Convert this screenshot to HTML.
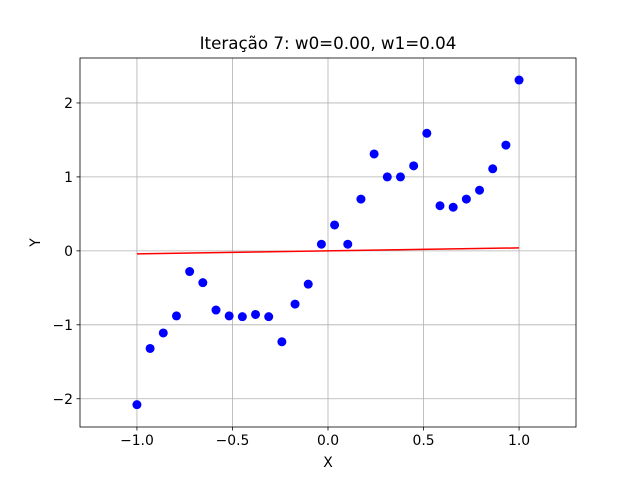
<!DOCTYPE html>
<html><head><meta charset="utf-8"><style>body{margin:0;background:#fff}svg{display:block;font-family:"DejaVu Sans","Liberation Sans",sans-serif}</style></head>
<body>
<svg id="chart" width="640" height="480" xmlns="http://www.w3.org/2000/svg"></svg>
<script>
const xTicks=[-1.0,-0.5,0.0,0.5,1.0];
const xTickLabels=["\u22121.0","\u22120.5","0.0","0.5","1.0"];
const yTicks=[-2,-1,0,1,2];
const yTickLabels=["\u22122","\u22121","0","1","2"];
const yValues=[-2.08,-1.32,-1.11,-0.88,-0.28,-0.43,-0.80,-0.88,-0.89,-0.86,-0.89,-1.23,-0.72,-0.45,0.09,0.35,0.09,0.70,1.31,1.00,1.00,1.15,1.59,0.61,0.59,0.70,0.82,1.11,1.43,2.31];
const w0=0.00, w1=0.04;
const NS="http://www.w3.org/2000/svg";
const svg=document.getElementById('chart');
const L=80,R=576,T=58,B=427;
const xMin=-1.298,xMax=1.298,yMin=-2.382,yMax=2.608;
const sx=v=>L+(v-xMin)/(xMax-xMin)*(R-L);
const sy=v=>B-(v-yMin)/(yMax-yMin)*(B-T);
function mk(tag,attrs,parent){const e=document.createElementNS(NS,tag);for(const k in attrs)e.setAttribute(k,attrs[k]);(parent||svg).appendChild(e);return e;}
xTicks.forEach((t,i)=>{
 const g=mk('line',{x1:sx(t),x2:sx(t),y1:T,y2:B,stroke:'#b0b0b0','stroke-width':0.8});
 
 
 mk('line',{x1:sx(t),x2:sx(t),y1:B,y2:B+3.5,stroke:'#000','stroke-width':0.8});
 const tx=mk('text',{x:sx(t),y:B+18,'text-anchor':'middle','font-size':'13.9px'});
 tx.textContent=xTickLabels[i];
 
 
});
yTicks.forEach((t,i)=>{
 const g=mk('line',{x1:L,x2:R,y1:sy(t),y2:sy(t),stroke:'#b0b0b0','stroke-width':0.8});
 
 
 mk('line',{x1:L-3.5,x2:L,y1:sy(t),y2:sy(t),stroke:'#000','stroke-width':0.8});
 const tx=mk('text',{x:L-7,y:sy(t)+5,'text-anchor':'end','font-size':'13.9px'});
 tx.textContent=yTickLabels[i];
 
 
});
const n=yValues.length;
yValues.forEach((y,i)=>{
 const x=-1+2*i/(n-1);
 const c=mk('circle',{cx:sx(x),cy:sy(y),r:4.5,fill:'#0000ff'});
 
 
});
const ln=mk('line',{x1:sx(-1),y1:sy(w0+w1*-1),x2:sx(1),y2:sy(w0+w1*1),stroke:'#ff0000','stroke-width':1.5});


const fr=mk('rect',{x:L,y:T,width:R-L,height:B-T,fill:'none',stroke:'#000','stroke-width':0.8});


const ti=mk('text',{x:(L+R)/2,y:49,'text-anchor':'middle','font-size':'16.7px'});
ti.textContent='Iteração 7: w0=0.00, w1=0.04';


const xl=mk('text',{x:(L+R)/2,y:467,'text-anchor':'middle','font-size':'13.9px'});
xl.textContent='X';


const yl=mk('text',{x:0,y:0,'text-anchor':'middle','font-size':'13.9px',transform:'translate(40,'+((T+B)/2)+') rotate(-90)'});
yl.textContent='Y';


</script>
</body></html>
